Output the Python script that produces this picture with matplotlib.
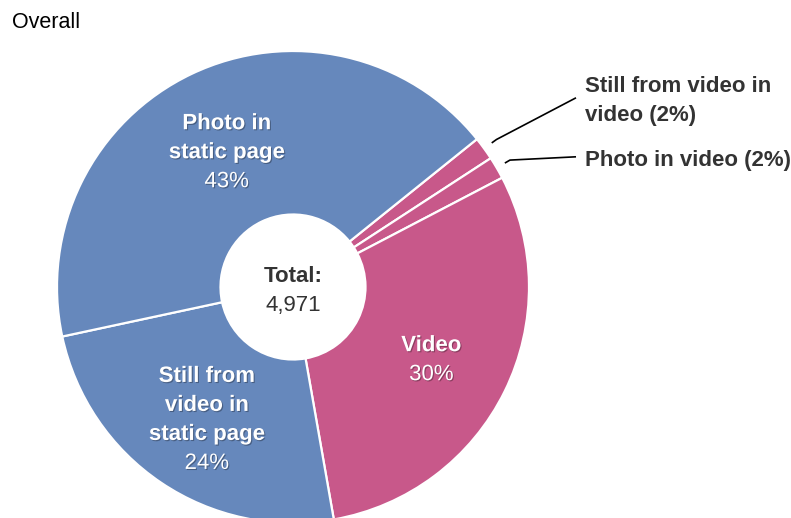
import numpy as np
import matplotlib
matplotlib.use("Agg")
import matplotlib.pyplot as plt
import matplotlib.patheffects as pe

plt.rcParams['font.family'] = ['Liberation Sans', 'DejaVu Sans']

# Slice data (clockwise from the upper right)
categories = ["Still from video in video", "Photo in video", "Video",
              "Still from video in static page", "Photo in static page"]
inner_labels = [None, None, "Video", "Still from\nvideo in\nstatic page", "Photo in\nstatic page"]
outer_labels = ["Still from video in\nvideo", "Photo in video", None, None, None]
counts = [79, 76, 1486, 1213, 2117]
colors = ["#C8588A", "#C8588A", "#C8588A", "#6688BC", "#6688BC"]

total = sum(counts)
DARK = "#333333"

W, H = 791, 518
fig = plt.figure(figsize=(W / 100, H / 100), dpi=100)
# pie radius 236 px centred at (293, 287) px from top-left
R_PX = 236
CX, CY = 293, 287
ax = fig.add_axes([(CX - R_PX) / W, (H - CY - R_PX) / H,
                   2 * R_PX / W, 2 * R_PX / H])
ax.set_axis_off()


def px2data(px, py):
    return (px - CX) / R_PX, (CY - py) / R_PX


hole = 72.5 / R_PX
width = 1 - hole
wedges, _ = ax.pie(counts, colors=colors, startangle=38.8, counterclock=False,
                   radius=1.0,
                   wedgeprops=dict(width=width, edgecolor="white", linewidth=1.6))
ax.set_xlim(-1, 1)
ax.set_ylim(-1, 1)
ax.set_aspect("equal")

shadow = [pe.SimplePatchShadow(offset=(0.8, -0.8), shadow_rgbFace="black", alpha=0.3),
          pe.Normal()]
PT = 72 / 100          # points per pixel
LINE = 29 * PT         # line pitch
BASE = 9 * PT          # baseline drop below the line centre
r_mid = (1 + hole) / 2


def block(x, y, lines, weights, color, effects=None):
    n = len(lines)
    for i, (line, wt) in enumerate(zip(lines, weights)):
        off = ((n - 1) / 2 - i) * LINE - BASE
        ax.annotate(line, (x, y), xytext=(0, off), textcoords="offset points",
                    ha="center", va="baseline", fontsize=16, color=color,
                    fontweight=wt, path_effects=effects, annotation_clip=False)


for w, v, lab_in, lab_out in zip(wedges, counts, inner_labels, outer_labels):
    mid = np.deg2rad((w.theta1 + w.theta2) / 2)
    pct = f"{round(v / total * 100)}%"
    if lab_in:
        lines = lab_in.split("\n") + [pct]
        cx, cy = r_mid * np.cos(mid), r_mid * np.sin(mid) - 1.5 / R_PX
        block(cx, cy, lines, ["bold"] * (len(lines) - 1) + ["normal"], "white", shadow)
    if lab_out:
        lines = f"{lab_out} ({pct})".split("\n")
        n = len(lines)
        first_base = 92.5 if n > 1 else 166
        tx, _ = px2data(585, 0)
        for i, line in enumerate(lines):
            _, ty = px2data(0, first_base + 29 * i)
            ax.text(tx, ty, line, ha="left", va="baseline", fontsize=16,
                    fontweight="bold", color=DARK, clip_on=False)
        _, ey = px2data(0, first_base + 29 * (n - 1) / 2 - 8)
        p0 = (1.04 * np.cos(mid), 1.04 * np.sin(mid))
        p1 = (1.065 * np.cos(mid), 1.065 * np.sin(mid))
        p2 = (tx - 9 / R_PX, ey + 1.2 / R_PX)
        ax.plot([p0[0], p1[0], p2[0]], [p0[1], p1[1], p2[1]], color="black",
                lw=1.2, clip_on=False, solid_capstyle="butt")

block(0, 0, ["Total:", f"{total:,}"], ["bold", "normal"], DARK)

fig.text(12 / W, 1 - 23 / H, "Overall", ha="left", va="center",
         fontsize=15.5, color="black")

fig.savefig("out.png", dpi=100)
